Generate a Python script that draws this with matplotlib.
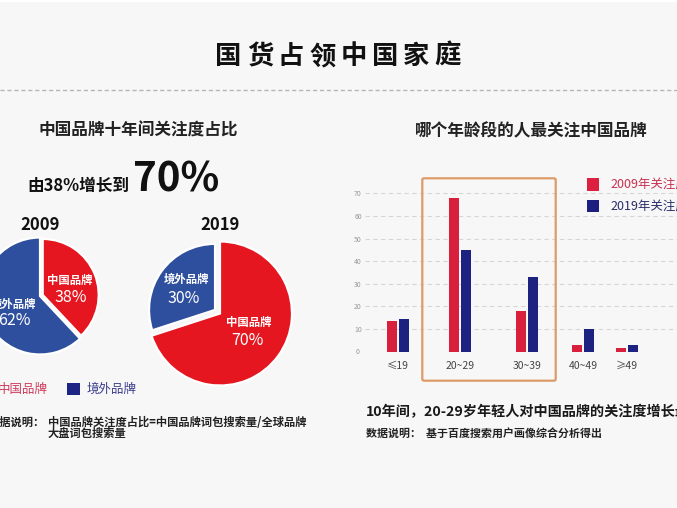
import matplotlib
matplotlib.use("Agg")
import matplotlib.pyplot as plt
from matplotlib.patches import Rectangle, FancyBboxPatch

plt.rcParams['font.family'] = ['Noto Sans CJK SC', 'DejaVu Sans']

# ---------------- data ----------------
title = "国货占领中国家庭"
left_subtitle = "中国品牌十年间关注度占比"
growth_prefix = "由38%增长到"
growth_value = "70%"
pie_years = ["2009", "2019"]
brand_names = ["中国品牌", "境外品牌"]
share_cn = [38, 70]
share_foreign = [62, 30]
left_note_head = "数据说明："
left_note_lines = ["中国品牌关注度占比=中国品牌词包搜索量/全球品牌", "大盘词包搜索量"]

right_subtitle = "哪个年龄段的人最关注中国品牌"
age_groups = ["≤19", "20~29", "30~39", "40~49", "≥49"]
attention_2009 = [13.5, 68, 18, 3, 1.5]
attention_2019 = [14.5, 45, 33, 10, 3]
series_names = ["2009年关注度", "2019年关注度"]
yticks = [0, 10, 20, 30, 40, 50, 60, 70]
right_headline = "10年间，20-29岁年轻人对中国品牌的关注度增长最快"
right_note = "数据说明：  基于百度搜索用户画像综合分析得出"

# ---------------- layout / style ----------------
W, H = 677, 508
BG = "#f7f7f7"
PIE_RED = "#e5161f"
PIE_BLUE = "#2e4f9e"
BAR_RED = "#d81f3c"
BAR_BLUE = "#1d2180"
group_pos = [0, 6.2, 12.9, 18.5, 22.9]   # category positions along x (axis units)

fig = plt.figure(figsize=(W / 100, H / 100), dpi=100, facecolor=BG)


def fx(x):
    return x / W


def fy(y):
    return 1 - y / H


def px_axes(x0, y0, x1, y1):
    return fig.add_axes([x0 / W, 1 - y1 / H, (x1 - x0) / W, (y1 - y0) / H])


def px_rect(x0, y0, x1, y1, **kw):
    r = Rectangle((fx(x0), fy(y1)), (x1 - x0) / W, (y1 - y0) / H,
                  transform=fig.transFigure, **kw)
    fig.add_artist(r)
    return r


# top white strip
px_rect(0, 0, W, 2, facecolor="white", edgecolor="none")

# title (letter-spaced) and dashed separator
step = 31.25
n = len(title)
for i, ch in enumerate(title):
    fig.text(fx(338 + (i - (n - 1) / 2) * step), fy(56.5), ch, ha="center", va="center",
             fontsize=19, fontweight="bold", color="#111111")
fig.add_artist(plt.Line2D([0, 1], [fy(89.5), fy(89.5)], transform=fig.transFigure,
                          color="#b5b5b5", lw=1.0, linestyle=(0, (3, 2))))

# ---------------- left panel ----------------
fig.text(fx(138), fy(131), left_subtitle, ha="center", va="center", fontsize=12,
         fontweight="bold", color="#222222")
fig.text(fx(27), fy(191), growth_prefix, ha="left", va="baseline", fontsize=12,
         fontweight="bold", color="#111111")
fig.text(fx(133), fy(192), growth_value, ha="left", va="baseline", fontsize=29,
         fontweight="bold", color="#111111")


def draw_pie(cx, cy, R, values, minor_idx, minor_scale, explode_amt, year, labels_pos):
    k = 1.35
    ax = px_axes(cx - k * R, cy - k * R, cx + k * R, cy + k * R)
    ax.set_facecolor("none")
    explode = [0, 0]
    explode[minor_idx] = explode_amt
    wedges, _ = ax.pie(values, colors=[PIE_RED, PIE_BLUE], startangle=90,
                       counterclock=False, explode=explode, radius=1,
                       wedgeprops=dict(edgecolor="white", linewidth=1.6))
    wedges[minor_idx].set_radius(minor_scale)
    for w in wedges:
        w.set_clip_on(False)
    ax.set_xlim(-k, k)
    ax.set_ylim(-k, k)
    ax.set_aspect("auto")
    ax.axis("off")
    for i, (name, val) in enumerate(zip(brand_names, values)):
        (nx, ny), (vx, vy) = labels_pos[i]
        ax.text(nx, ny, name, ha="center", va="center", fontsize=8.2,
                color="white", fontweight="bold", clip_on=False)
        ax.text(vx, vy, f"{val}%", ha="center", va="center", fontsize=11.5,
                color="white", fontweight="medium", clip_on=False)
    fig.text(fx(cx), fy(225.5), year, ha="center", va="center", fontsize=12,
             fontweight="bold", color="#111111")


draw_pie(40, 296, 58.5, [share_cn[0], share_foreign[0]], 0, 0.957, 0.05, pie_years[0],
         [((0.51, 0.27), (0.53, -0.03)), ((-0.46, -0.15), (-0.43, -0.42))])
draw_pie(220, 313.5, 72, [share_cn[1], share_foreign[1]], 1, 0.917, 0.085, pie_years[1],
         [((0.40, -0.13), (0.38, -0.38)), ((-0.47, 0.47), (-0.5, 0.215))])

# pie legend
px_rect(-20, 383, -8, 395, facecolor=PIE_RED, edgecolor="none")
fig.text(fx(-2), fy(389), brand_names[0], ha="left", va="center", fontsize=9,
         color="#cf3b5b")
px_rect(67, 383, 80, 395, facecolor="#1c2585", edgecolor="none")
fig.text(fx(87), fy(389), brand_names[1], ha="left", va="center", fontsize=9,
         color="#3d3f8c")

# left note
fig.text(fx(-11), fy(422), left_note_head, ha="left", va="center", fontsize=8.1,
         fontweight="bold", color="#222222")
for i, line in enumerate(left_note_lines):
    fig.text(fx(48), fy(422 + 11.5 * i), line, ha="left", va="center", fontsize=8.1,
             fontweight="bold", color="#222222")

# ---------------- right panel ----------------
fig.text(fx(531), fy(131), right_subtitle, ha="center", va="center", fontsize=12,
         fontweight="bold", color="#222222")

ax = px_axes(365, 193.3, 677, 351.5)
ax.set_facecolor("none")
bw = 0.97
off = 0.57
x_red = [p - off for p in group_pos]
x_blue = [p + off for p in group_pos]
ax.bar(x_red, attention_2009, width=bw, color=BAR_RED, zorder=3)
ax.bar(x_blue, attention_2019, width=bw, color=BAR_BLUE, zorder=3)
ax.set_xlim(-3.3, 27.9)
ax.set_ylim(0, 70)
for t in yticks[1:]:
    ax.axhline(t, color="#d6d6d6", lw=0.8, linestyle=(0, (4, 3)), zorder=1, clip_on=False)
ax.set_yticks(yticks)
ax.set_yticklabels([str(t) for t in yticks], fontsize=5, color="#999999")
for lbl in ax.get_yticklabels():
    lbl.set_horizontalalignment("center")
ax.tick_params(axis="y", length=0, pad=5)
ax.set_xticks(group_pos)
ax.set_xticklabels(age_groups, fontsize=7.5, color="#444444")
ax.tick_params(axis="x", length=0, pad=7)
for s in ax.spines.values():
    s.set_visible(False)

# highlight box
box = FancyBboxPatch((fx(422.3), fy(380.7)), (555.7 - 422.3) / W, (380.7 - 178.3) / H,
                     boxstyle="round,pad=0,rounding_size=0.003",
                     transform=fig.transFigure, fill=False,
                     edgecolor="#dc9b68", linewidth=1.6)
fig.add_artist(box)

# bar legend
px_rect(586.7, 178, 599.3, 190.5, facecolor="#dc2042", edgecolor="none")
fig.text(fx(610), fy(184.5), series_names[0], ha="left", va="center", fontsize=9,
         color="#c83050")
px_rect(586.7, 200, 599.3, 212.5, facecolor="#1c1f80", edgecolor="none")
fig.text(fx(610), fy(206.5), series_names[1], ha="left", va="center", fontsize=9,
         color="#2a2d6a")

# right notes
fig.text(fx(366), fy(412), right_headline, ha="left", va="center", fontsize=10.2,
         fontweight="bold", color="#1a1a1a")
fig.text(fx(366), fy(433), right_note, ha="left", va="center", fontsize=7.9,
         fontweight="bold", color="#222222")

fig.savefig("out.png", dpi=100, facecolor=BG)
